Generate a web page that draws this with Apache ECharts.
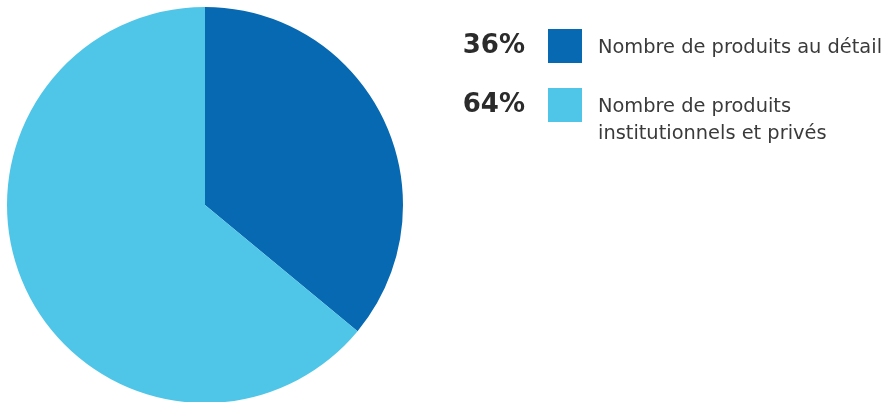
<!DOCTYPE html>
<html><head><meta charset="utf-8">
<script src="https://cdn.jsdelivr.net/npm/echarts@6/dist/echarts.min.js"></script>
<style>html,body{margin:0;padding:0;background:#fff}#c{width:885px;height:402px}</style>
</head><body><div id="c"></div>
<script>
const categories = ['Nombre de produits au détail', 'Nombre de produits\ninstitutionnels et privés'];
const values = [36, 64];
const percentLabels = ['36%', '64%'];
const colors = ['#0669B2', '#4FC6E8'];

const chart = echarts.init(document.getElementById('c'));
const rowTops = [29, 88];
const graphics = [];
categories.forEach((name, i) => {
  graphics.push({
    type: 'text', x: 525, y: rowTops[i] + 17,
    style: { text: percentLabels[i], font: 'bold 26px "DejaVu Sans"', fill: '#2b2b2b', textAlign: 'right', textVerticalAlign: 'middle' }
  });
  graphics.push({
    type: 'rect', left: 548, top: rowTops[i],
    shape: { width: 34, height: 34 }, style: { fill: colors[i] }
  });
  graphics.push({
    type: 'text', x: 598, y: rowTops[i] + 5,
    style: { text: name, font: '19.4px "DejaVu Sans"', fill: '#3a3a3a', lineHeight: 27, textVerticalAlign: 'top' }
  });
});

chart.setOption({
  animation: false,
  color: colors,
  graphic: graphics,
  series: [{
    type: 'pie',
    center: [205, 205],
    radius: [0, 198],
    startAngle: 90,
    clockwise: true,
    label: { show: false },
    labelLine: { show: false },
    emphasis: { disabled: true },
    itemStyle: { borderWidth: 0 },
    data: categories.map((n, i) => ({ name: n, value: values[i] }))
  }]
});
</script></body></html>
